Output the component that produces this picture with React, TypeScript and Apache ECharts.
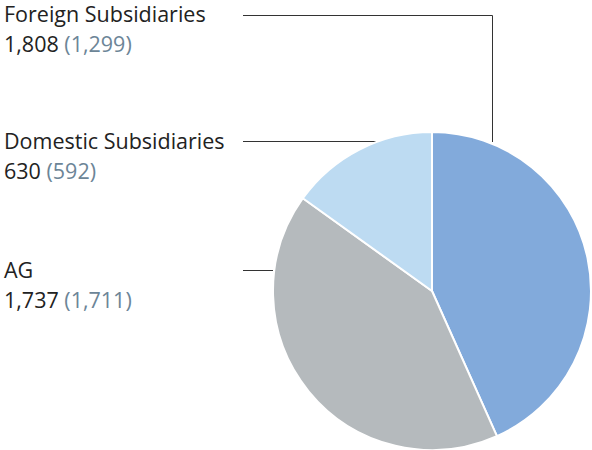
import React, { useEffect, useRef } from "react";
import * as echarts from "echarts";

const categories = ["Foreign Subsidiaries", "AG", "Domestic Subsidiaries"];
const values = [1808, 1737, 630];
const prevValues = [1299, 1711, 592];
const colors = ["#82aadb", "#b5babd", "#bddbf2"];

const fmt = (v: number) => v.toLocaleString("en-US");

export default function App() {
  const ref = useRef<HTMLDivElement>(null);
  useEffect(() => {
    const chart = echarts.init(ref.current!, undefined, { renderer: "svg" });
    const font = "'Open Sans', 'Noto Sans', sans-serif";
    const labelPos: Record<string, number> = {
      "Foreign Subsidiaries": 2,
      "Domestic Subsidiaries": 129,
      AG: 258,
    };
    const texts: any[] = [];
    categories.forEach((c, i) => {
      const y = labelPos[c];
      texts.push({
        type: "text",
        left: 4,
        top: y,
        style: {
          rich: {
            a: { fontSize: 21.5, fontFamily: font, fontWeight: "normal", fill: "#222", lineHeight: 30 },
            b: { fontSize: 21.5, fontFamily: font, fontWeight: "normal", fill: "#6c8597", lineHeight: 30 },
          },
          text: `{a|${c}}\n{a|${fmt(values[i])}}{b| (${fmt(prevValues[i])})}`,
        },
      });
    });
    const lines: any[] = [
      { type: "polyline", shape: { points: [[243, 15.5], [492.5, 15.5], [492.5, 142]] }, style: { stroke: "#333", lineWidth: 1, fill: null } },
      { type: "line", shape: { x1: 243, y1: 141.5, x2: 376, y2: 141.5 }, style: { stroke: "#333", lineWidth: 1 } },
      { type: "line", shape: { x1: 243, y1: 270.5, x2: 273, y2: 270.5 }, style: { stroke: "#333", lineWidth: 1 } },
    ];
    chart.setOption({
      animation: false,
      graphic: [...lines, ...texts],
      series: [
        {
          type: "pie",
          center: [432, 291],
          radius: [0, 159],
          startAngle: 90,
          clockwise: true,
          label: { show: false },
          labelLine: { show: false },
          emphasis: { disabled: true },
          itemStyle: { borderColor: "#fff", borderWidth: 2 },
          data: categories.map((c, i) => ({ name: c, value: values[i], itemStyle: { color: colors[i] } })),
        },
      ],
    });
    return () => chart.dispose();
  }, []);
  return <div ref={ref} style={{ width: 592, height: 450, position: "absolute", left: 0, top: 0 }} />;
}
